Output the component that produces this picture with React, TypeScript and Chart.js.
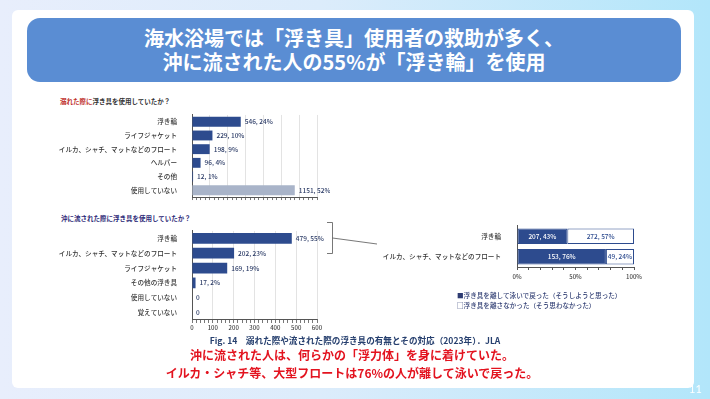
import React, { useEffect, useRef } from "react";
import { Chart, registerables } from "chart.js";
Chart.register(...registerables);

const FONT = "'Noto Sans CJK JP', 'Noto Sans', sans-serif";
const NAVY = "#2d4b8e";
const GREY_BAR = "#a9b4c9";

// Chart 1: 溺れた際に浮き具を使用していたか？
const drownCats = ["浮き輪", "ライフジャケット", "イルカ、シャチ、マットなどのフロート", "ヘルパー", "その他", "使用していない"];
const drownCounts = [546, 229, 198, 96, 12, 1151];
const drownPcts = [24, 10, 9, 4, 1, 52];
const drownMax = 1400;

// Chart 2: 沖に流された際に浮き具を使用していたか？
const driftCats = ["浮き輪", "イルカ、シャチ、マットなどのフロート", "ライフジャケット", "その他の浮き具", "使用していない", "覚えていない"];
const driftCounts = [479, 202, 169, 17, 0, 0];
const driftPcts: (number | null)[] = [55, 23, 19, 2, null, null];
const driftMax = 600;

// Chart 3: response
const respCats = ["浮き輪", "イルカ、シャチ、マットなどのフロート"];
const respSwamCounts = [207, 153];
const respSwamPcts = [43, 76];
const respKeptCounts = [272, 49];
const respKeptPcts = [57, 24];

function mkLabel(c: number, p: number | null) {
  return p === null ? String(c) : `${c}, ${p}%`;
}

const endLabelPlugin = (labels: string[], color: string) => ({
  id: "endLabels",
  afterDatasetsDraw(chart: any) {
    const ctx = chart.ctx;
    const meta = chart.getDatasetMeta(0);
    ctx.save();
    ctx.font = `500 6.5px ${FONT}`;
    ctx.fillStyle = color;
    ctx.textBaseline = "middle";
    ctx.textAlign = "left";
    meta.data.forEach((el: any, i: number) => {
      ctx.fillText(labels[i], el.x + 4, el.y);
    });
    ctx.restore();
  },
});

const stackLabelPlugin = {
  id: "stackLabels",
  afterDatasetsDraw(chart: any) {
    const ctx = chart.ctx;
    ctx.save();
    ctx.font = `500 6.5px ${FONT}`;
    ctx.textBaseline = "middle";
    ctx.textAlign = "center";
    chart.data.datasets.forEach((ds: any, di: number) => {
      const meta = chart.getDatasetMeta(di);
      meta.data.forEach((el: any, i: number) => {
        ctx.fillStyle = di === 0 ? "#ffffff" : NAVY;
        ctx.fillText(ds.labelsText[i], (el.x + el.base) / 2, el.y);
      });
    });
    ctx.restore();
  },
};

function useChart(ref: any, make: () => any) {
  useEffect(() => {
    const cfg = make();
    const chart = new Chart(ref.current, cfg);
    return () => chart.destroy();
  }, []);
}

const yLabelFont = { family: FONT, size: 6.6, weight: "500" as any };

function DrownChart() {
  const ref = useRef<HTMLCanvasElement>(null);
  useChart(ref, () => ({
    type: "bar",
    data: {
      labels: drownCats,
      datasets: [
        {
          data: drownCounts,
          backgroundColor: drownCounts.map((_, i) => (i === drownCounts.length - 1 ? GREY_BAR : NAVY)),
          barPercentage: 0.95,
          categoryPercentage: 0.76,
        },
      ],
    },
    options: {
      indexAxis: "y",
      animation: false,
      responsive: false,
      maintainAspectRatio: false,
      layout: { padding: { top: 4, right: 13, left: 0, bottom: 0 } },
      plugins: { legend: { display: false }, tooltip: { enabled: false } },
      scales: {
        x: {
          min: 0,
          max: drownMax,
          ticks: { stepSize: 50, display: false, autoSkip: false },
          grid: {
            color: (c: any) => (c.tick && c.tick.value % 200 === 0 && c.tick.value > 0 ? "#dcdcdc" : "rgba(0,0,0,0)"),
            tickColor: "#555",
            tickLength: 3,
            lineWidth: 0.8,
          },
          border: { color: "#555", width: 1 },
          afterFit: (s: any) => { s.height = 7; },
        },
        y: {
          ticks: { font: yLabelFont, color: "#333", padding: 7, autoSkip: false },
          grid: { display: false },
          border: { color: "#555", width: 1 },
          afterFit: (s: any) => { s.width = 142; },
        },
      },
    },
    plugins: [endLabelPlugin(drownCounts.map((c, i) => mkLabel(c, drownPcts[i])), "#2b3b66")],
  }));
  return <canvas ref={ref} width={280} height={104} style={{ position: "absolute", left: 50, top: 104, width: 280, height: 104 }} />;
}

function DriftChart() {
  const ref = useRef<HTMLCanvasElement>(null);
  useChart(ref, () => ({
    type: "bar",
    data: {
      labels: driftCats,
      datasets: [
        {
          data: driftCounts,
          backgroundColor: NAVY,
          barPercentage: 0.95,
          categoryPercentage: 0.76,
        },
      ],
    },
    options: {
      indexAxis: "y",
      animation: false,
      responsive: false,
      maintainAspectRatio: false,
      layout: { padding: { top: 4, right: 13, left: 0, bottom: 0 } },
      plugins: { legend: { display: false }, tooltip: { enabled: false } },
      scales: {
        x: {
          min: 0,
          max: driftMax,
          ticks: {
            stepSize: 20,
            autoSkip: false,
            maxRotation: 0,
            padding: 1,
            font: { family: FONT, size: 6, weight: "500" as any },
            color: "#444",
            callback: (v: any) => (Number(v) % 100 === 0 ? String(v) : ""),
          },
          grid: {
            color: (c: any) => (c.tick && c.tick.value % 100 === 0 && c.tick.value > 0 ? "#dcdcdc" : "rgba(0,0,0,0)"),
            tickColor: "#555",
            tickLength: 3,
            lineWidth: 0.8,
          },
          border: { color: "#555", width: 1 },
          afterFit: (s: any) => { s.height = 13; },
        },
        y: {
          ticks: { font: yLabelFont, color: "#333", padding: 7, autoSkip: false },
          grid: { display: false },
          border: { color: "#555", width: 1 },
          afterFit: (s: any) => { s.width = 142; },
        },
      },
    },
    plugins: [endLabelPlugin(driftCounts.map((c, i) => mkLabel(c, driftPcts[i])), "#2b3b66")],
  }));
  return <canvas ref={ref} width={280} height={113} style={{ position: "absolute", left: 50, top: 220, width: 280, height: 113 }} />;
}

function RespChart() {
  const ref = useRef<HTMLCanvasElement>(null);
  useChart(ref, () => ({
    type: "bar",
    data: {
      labels: respCats,
      datasets: [
        {
          data: respSwamPcts,
          labelsText: respSwamCounts.map((c, i) => mkLabel(c, respSwamPcts[i])),
          backgroundColor: NAVY,
          borderColor: NAVY,
          borderWidth: 1,
          borderSkipped: false,
          barPercentage: 0.95,
          categoryPercentage: 0.8,
        },
        {
          data: respKeptPcts,
          labelsText: respKeptCounts.map((c, i) => mkLabel(c, respKeptPcts[i])),
          backgroundColor: "#ffffff",
          borderColor: NAVY,
          borderWidth: 1,
          borderSkipped: false,
          barPercentage: 0.95,
          categoryPercentage: 0.8,
        },
      ],
    },
    options: {
      indexAxis: "y",
      animation: false,
      responsive: false,
      maintainAspectRatio: false,
      layout: { padding: { top: 5, right: 16, left: 0, bottom: 0 } },
      plugins: { legend: { display: false }, tooltip: { enabled: false } },
      scales: {
        x: {
          stacked: true,
          min: 0,
          max: 100,
          ticks: {
            stepSize: 10,
            autoSkip: false,
            maxRotation: 0,
            padding: 3,
            font: { family: FONT, size: 6, weight: "500" as any },
            color: "#444",
            callback: (v: any) => (Number(v) % 50 === 0 ? `${v}%` : ""),
          },
          grid: { color: "rgba(0,0,0,0)", tickColor: "#555", tickLength: 3 },
          border: { color: "#555", width: 1 },
          afterFit: (s: any) => { s.height = 15; },
        },
        y: {
          stacked: true,
          ticks: { font: yLabelFont, color: "#333", padding: 8, autoSkip: false },
          grid: { display: false },
          border: { color: "#555", width: 1 },
          afterFit: (s: any) => { s.width = 147; },
        },
      },
    },
    plugins: [stackLabelPlugin],
  }));
  return <canvas ref={ref} width={280} height={68} style={{ position: "absolute", left: 370, top: 214, width: 280, height: 68 }} />;
}

export default function App() {
  const abs = (o: any) => ({ position: "absolute" as const, ...o });
  return (
    <div
      style={{
        position: "absolute",
        left: 0,
        top: 0,
        width: 710,
        height: 399,
        overflow: "hidden",
        background: "linear-gradient(90deg, #e8eefc 0%, #dcecfb 45%, #b2e6fa 100%)",
        fontFamily: FONT,
      }}
    >
      <div style={abs({ left: 12, top: 10, width: 682, height: 378, background: "#ffffff", borderRadius: 6 })} />
      <div
        style={abs({
          left: 27,
          top: 18,
          width: 654,
          height: 64,
          background: "#5a8dd3",
          borderRadius: 13,
          display: "flex",
          flexDirection: "column",
          alignItems: "center",
          justifyContent: "center",
          color: "#ffffff",
          fontWeight: 700,
          fontSize: 20,
          lineHeight: "24px",
        })}
      >
        <div>海水浴場では「浮き具」使用者の救助が多く、</div>
        <div>沖に流された人の55%が「浮き輪」を使用</div>
      </div>

      <div style={abs({ left: 60, top: 96, fontSize: 6.5, lineHeight: "10px", fontWeight: 700, color: "#333", whiteSpace: "nowrap" })}>
        <span style={{ color: "#c0312b" }}>溺れた際に</span>浮き具を使用していたか？
      </div>
      <DrownChart />

      <div style={abs({ left: 61, top: 213, fontSize: 6.5, lineHeight: "10px", fontWeight: 700, color: "#2e2a78", whiteSpace: "nowrap" })}>
        沖に流された際に浮き具を使用していたか？
      </div>
      <DriftChart />

      <svg style={abs({ left: 0, top: 0 })} width={710} height={399}>
        <polyline points="327,222.5 332.5,222.5 332.5,253.5 327,253.5" fill="none" stroke="#555" strokeWidth={0.8} />
        <line x1={332.5} y1={238} x2={377} y2={244} stroke="#555" strokeWidth={0.8} />
      </svg>

      <RespChart />

      <div style={abs({ left: 457, top: 290, fontSize: 6.6, lineHeight: "10px", fontWeight: 500, color: "#2e3c72", whiteSpace: "nowrap" })}>
        <div>■浮き具を離して泳いで戻った（そうしようと思った）</div>
        <div>□浮き具を離さなかった（そう思わなかった）</div>
      </div>

      <div style={abs({ left: 0, width: 710, top: 334, textAlign: "center", fontSize: 8.6, lineHeight: "12px", fontWeight: 700, color: "#27406f", whiteSpace: "nowrap" })}>
        Fig. 14　溺れた際や流された際の浮き具の有無とその対応（2023年）．JLA
      </div>

      <div style={abs({ left: 0, width: 704, top: 346, textAlign: "center", fontSize: 12, lineHeight: "18px", fontWeight: 700, color: "#e3131f", whiteSpace: "nowrap" })}>
        <div>沖に流された人は、何らかの「浮力体」を身に着けていた。</div>
        <div>イルカ・シャチ等、大型フロートは76%の人が離して泳いで戻った。</div>
      </div>

      <div style={abs({ left: 689, top: 382, fontSize: 11, lineHeight: "14px", color: "#ffffff", fontFamily: "Lato, sans-serif" })}>11</div>
    </div>
  );
}
